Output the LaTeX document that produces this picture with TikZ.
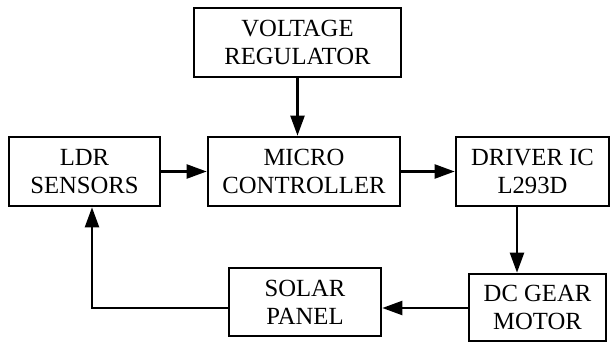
\documentclass[tikz,border=0pt]{standalone}
\usepackage{fontspec}
\setmainfont{Liberation Serif}
\usetikzlibrary{arrows.meta}

\tikzset{
  blockbox/.style={draw, line width=2pt, rectangle, inner sep=0pt, minimum height=51.75pt, align=center, font=\fontsize{18.5}{21}\selectfont},
  flowarrow/.style={line width=1.7pt, -{Triangle[length=15pt,width=10.5pt]}}
}

\begin{document}
\begin{tikzpicture}[x=0.75pt,y=0.75pt,yscale=-1,xscale=1]
\useasboundingbox (0,0) rectangle (611,342);

% Blocks
\node [blockbox, minimum width=155.25pt] (volt) at (297.5,42.5) {VOLTAGE\\REGULATOR};
\node [blockbox, minimum width=113.25pt] (ldr) at (84.5,171.5) {LDR\\SENSORS};
\node [blockbox, minimum width=144pt] (micro) at (304,171.5) {MICRO\\CONTROLLER};
\node [blockbox, minimum width=114.75pt] (driver) at (532.5,171.5) {DRIVER IC\\L293D};
\node [blockbox, minimum width=114pt, minimum height=51pt] (solar) at (305,302) {SOLAR\\PANEL};
\node [blockbox, minimum width=102.75pt, minimum height=50.25pt] (dcgear) at (537.5,307.5) {DC GEAR\\MOTOR};

% Connectors
\coordinate (drvout) at (517,206);
\coordinate (turn) at (92,308);

\draw [flowarrow] (volt.south) -- (volt.south |- micro.north);
\draw [flowarrow] (ldr) -- (micro);
\draw [flowarrow] (micro) -- (driver);
\draw [flowarrow] (drvout |- driver.south) -- (drvout |- dcgear.north);
\draw [flowarrow] (dcgear.west |- turn) -- (solar.east |- turn);
\draw [flowarrow] (solar.west |- turn) -- (turn) -- (turn |- ldr.south);

\end{tikzpicture}
\end{document}
